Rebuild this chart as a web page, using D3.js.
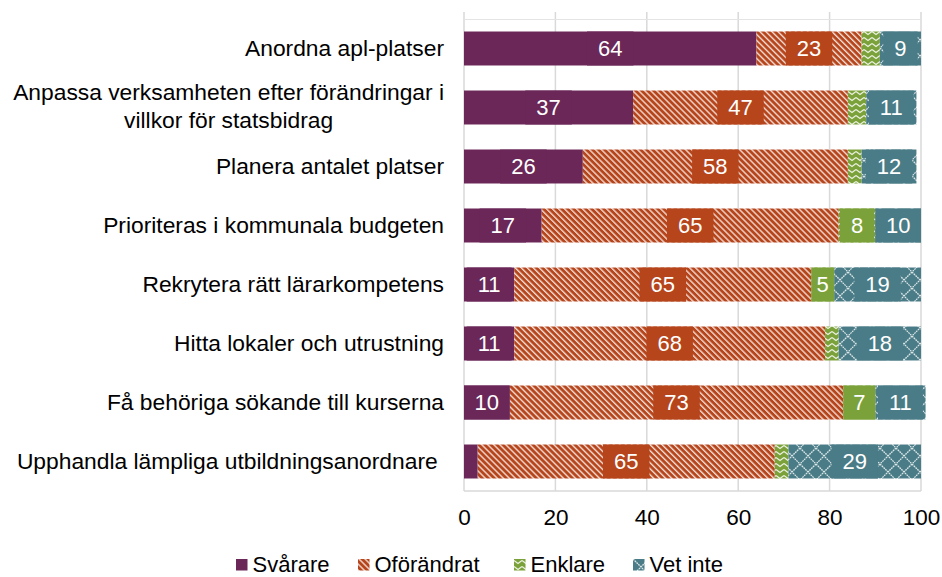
<!DOCTYPE html>
<html>
<head>
<meta charset="utf-8">
<script src="https://cdn.jsdelivr.net/npm/d3@7"></script>
<style>
  html, body { margin: 0; padding: 0; background: #fff; }
  svg text { font-family: "Liberation Sans", Arial, sans-serif; }
</style>
</head>
<body>
<svg id="chart" width="942" height="577"></svg>
<script>
// ==== Data ====
const categories = [
  'Anordna apl-platser',
  'Anpassa verksamheten efter förändringar i\nvillkor för statsbidrag',
  'Planera antalet platser',
  'Prioriteras i kommunala budgeten',
  'Rekrytera rätt lärarkompetens',
  'Hitta lokaler och utrustning',
  'Få behöriga sökande till kurserna',
  'Upphandla lämpliga utbildningsanordnare '
];
const seriesNames = ['Svårare', 'Oförändrat', 'Enklare', 'Vet inte'];
const svarare    = [64, 37, 26, 17, 11, 11, 10, 3];
const oforandrat = [23, 47, 58, 65, 65, 68, 73, 65];
const enklare    = [4, 4, 3, 8, 5, 3, 7, 3];
const vetInte    = [9, 11, 12, 10, 19, 18, 11, 29];
const xTicks     = [0, 20, 40, 60, 80, 100];

const colors = ['#6a2757', '#b6451c', '#7ba23a', '#4a7c87'];

const svg = d3.select('#chart');
const x = d3.scaleLinear().domain([0, 100]).range([464, 921]);
const y = d3.scaleBand().domain(categories).range([19, 491])
  .paddingInner(0.424).paddingOuter(0.212);

// ==== Patterns ====
const defs = svg.append('defs');
// stripes
const pStripe = defs.append('pattern').attr('id', 'pat1')
  .attr('patternUnits', 'userSpaceOnUse').attr('width', 4.25).attr('height', 4.25)
  .attr('patternTransform', 'rotate(-45)');
pStripe.append('rect').attr('width', 4.25).attr('height', 4.25).attr('fill', colors[1]);
pStripe.append('rect').attr('x', 0).attr('width', 1.4).attr('height', 4.25)
  .attr('fill', '#fff').attr('opacity', 0.8);
// zigzag
const pZig = defs.append('pattern').attr('id', 'pat2')
  .attr('patternUnits', 'userSpaceOnUse').attr('width', 8).attr('height', 6);
pZig.append('rect').attr('width', 8).attr('height', 6).attr('fill', colors[2]);
pZig.append('path').attr('d', 'M0,1.5 L4,4.5 L8,1.5')
  .attr('fill', 'none').attr('stroke', '#fff').attr('stroke-width', 1.2).attr('opacity', 0.85);
// lattice
const pLat = defs.append('pattern').attr('id', 'pat3')
  .attr('patternUnits', 'userSpaceOnUse').attr('width', 16).attr('height', 16);
pLat.append('rect').attr('width', 16).attr('height', 16).attr('fill', colors[3]);
pLat.append('path').attr('d', 'M0,0 L16,16 M16,0 L0,16')
  .attr('fill', 'none').attr('stroke', '#fff').attr('stroke-width', 1.3)
  .attr('stroke-dasharray', '1.8 0.7').attr('opacity', 0.8);
const fills = [colors[0], 'url(#pat1)', 'url(#pat2)', 'url(#pat3)'];

// ==== Grid ====
svg.append('g').selectAll('line').data(xTicks).join('line')
  .attr('x1', d => x(d)).attr('x2', d => x(d))
  .attr('y1', 12).attr('y2', 491)
  .attr('stroke', '#d9d9d9').attr('stroke-width', 1.5);
svg.append('line').attr('x1', x(0)).attr('x2', x(100)).attr('y1', 19.5).attr('y2', 19.5)
  .attr('stroke', '#e4e4e4').attr('stroke-width', 1);
svg.append('line').attr('x1', x(0)).attr('x2', x(100)).attr('y1', 491).attr('y2', 491)
  .attr('stroke', '#d9d9d9').attr('stroke-width', 1.5);

// ==== Stack ====
const rows = categories.map((c, i) => ({
  cat: c, vals: [svarare[i], oforandrat[i], enklare[i], vetInte[i]]
}));
const segs = [];
rows.forEach(r => {
  let acc = 0;
  r.vals.forEach((v, k) => {
    segs.push({ cat: r.cat, k, v, x0: acc, x1: acc + v });
    acc += v;
  });
});

svg.append('g').selectAll('rect').data(segs).join('rect')
  .attr('x', d => x(d.x0)).attr('width', d => x(d.x1) - x(d.x0))
  .attr('y', d => y(d.cat)).attr('height', y.bandwidth())
  .attr('fill', d => fills[d.k]);

// data labels with solid box
const lab = svg.append('g').selectAll('g').data(segs.filter(d => d.v >= 5)).join('g');
lab.append('text')
  .attr('x', d => (x(d.x0) + x(d.x1)) / 2)
  .attr('y', d => y(d.cat) + y.bandwidth() / 2 + 7.8)
  .attr('text-anchor', 'middle').attr('font-size', 22).attr('fill', '#fff')
  .text(d => d.v);
lab.each(function(d) {
  const g = d3.select(this);
  const tw = g.select('text').node().getComputedTextLength();
  const segW = x(d.x1) - x(d.x0);
  const w = Math.min(tw + 22, segW);
  const cx = (x(d.x0) + x(d.x1)) / 2;
  g.insert('rect', 'text')
    .attr('x', cx - w / 2).attr('width', w)
    .attr('y', y(d.cat)).attr('height', y.bandwidth())
    .attr('fill', colors[d.k]);
});

// ==== Category labels ====
const lineH = 27.5;
svg.append('g').selectAll('text').data(categories).join('text')
  .attr('font-size', 22.8).attr('fill', '#000')
  .style('white-space', 'pre')
  .each(function(c) {
    const lines = c.split('\n');
    const t = d3.select(this);
    const cy = y(c) + y.bandwidth() / 2 + 7.8 - (lines.length - 1) * lineH / 2;
    if (lines.length === 1) {
      t.attr('x', 444).attr('y', cy).attr('text-anchor', 'end').text(lines[0]);
    } else {
      // centred block, right edge at 444
      t.attr('text-anchor', 'middle');
      lines.forEach((l, i) => t.append('tspan').attr('y', cy - 1.5 + i * lineH).text(l));
      const widths = [];
      t.selectAll('tspan').each(function() { widths.push(this.getComputedTextLength()); });
      const cx = 444 - d3.max(widths) / 2;
      t.selectAll('tspan').attr('x', cx);
    }
  });

// ==== X axis ====
const xAxis = svg.append('g').attr('transform', 'translate(0,491)')
  .call(d3.axisBottom(x).tickValues(xTicks).tickSize(0).tickPadding(18));
xAxis.select('.domain').remove();
xAxis.selectAll('text').attr('font-size', 22.5).attr('fill', '#000')
  .attr('font-family', '"Liberation Sans", Arial, sans-serif');

// ==== Legend ====
const legX = [236, 358, 514, 633];
const leg = svg.append('g').selectAll('g').data(seriesNames).join('g')
  .attr('transform', (d, i) => `translate(${legX[i]},559)`);
leg.append('rect').attr('width', 11.5).attr('height', 11.5)
  .attr('fill', (d, i) => fills[i]);
leg.append('text').attr('x', 16.5).attr('y', 12.5).attr('font-size', 22).attr('fill', '#000')
  .text(d => d);
</script>
</body>
</html>
